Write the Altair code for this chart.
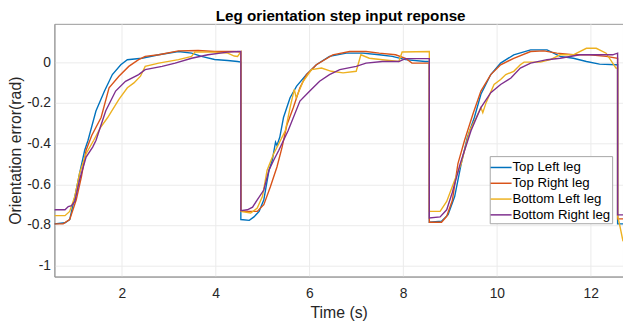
import altair as alt
import pandas as pd

title_text = "Leg orientation step input reponse"
series_names = ["Top Left leg", "Top Right leg", "Bottom Left leg", "Bottom Right leg"]
series_colors = ["#0072BD", "#D95319", "#EDB120", "#7E2F8E"]

t_top_left = [0.564, 0.79, 0.89, 1.0, 1.1, 1.21, 1.28, 1.45, 1.63, 1.80, 1.98, 2.12, 2.43, 2.79, 3.21, 3.49, 3.70, 3.98, 4.26, 4.47, 4.54,
              4.54, 4.72, 4.82, 4.93, 5.03, 5.14, 5.21, 5.28, 5.31, 5.37, 5.45, 5.59, 5.73, 5.94, 6.15, 6.43, 6.79, 7.14, 7.49, 7.77, 8.05, 8.47, 8.56,
              8.56, 8.82, 8.96, 9.1, 9.24, 9.37, 9.52, 9.66, 9.87, 10.08, 10.36, 10.72, 11.07, 11.35, 11.63, 11.91, 12.19, 12.54, 12.575,
              12.575, 12.69]
v_top_left = [-0.794, -0.789, -0.773, -0.66, -0.547, -0.433, -0.385, -0.240, -0.143, -0.061, -0.013, 0.012, 0.019, 0.036, 0.052, 0.044, 0.028, 0.013, 0.008, 0.003, 0.0,
              -0.773, -0.777, -0.76, -0.733, -0.676, -0.531, -0.482, -0.393, -0.409, -0.369, -0.272, -0.175, -0.118, -0.061, -0.013, 0.028, 0.044, 0.044, 0.036, 0.028, 0.012, 0.003, 0.003,
              -0.786, -0.781, -0.749, -0.66, -0.498, -0.37, -0.272, -0.158, -0.061, -0.005, 0.036, 0.060, 0.060, 0.028, 0.019, 0.003, -0.01, -0.013, -0.013,
              -0.794, -0.794]

t_top_right = [0.564, 0.75, 0.89, 1.03, 1.14, 1.24, 1.36, 1.56, 1.73, 1.94, 2.15, 2.36, 2.5, 2.79, 3.21, 3.63, 3.98, 4.4, 4.54,
               4.54, 4.89, 5.03, 5.17, 5.31, 5.42, 5.52, 5.66, 5.80, 5.94, 6.15, 6.5, 6.86, 7.21, 7.49, 7.84, 8.05, 8.19, 8.47, 8.56,
               8.56, 8.82, 8.93, 9.05, 9.17, 9.31, 9.49, 9.66, 9.87, 10.08, 10.36, 10.72, 11.0, 11.28, 11.63, 11.98, 12.33, 12.575,
               12.575, 12.69]
v_top_right = [-0.794, -0.794, -0.773, -0.676, -0.563, -0.433, -0.36, -0.272, -0.126, -0.069, -0.021, 0.012, 0.028, 0.036, 0.055, 0.057, 0.052, 0.052, 0.049,
               -0.733, -0.733, -0.70, -0.612, -0.515, -0.417, -0.31, -0.223, -0.126, -0.061, -0.013, 0.036, 0.052, 0.052, 0.044, 0.036, 0.019, -0.005, -0.005, -0.005,
               -0.786, -0.786, -0.757, -0.68, -0.498, -0.385, -0.255, -0.142, -0.061, -0.013, 0.019, 0.052, 0.055, 0.044, 0.036, 0.036, 0.028, 0.019,
               -0.77, -0.77]

t_bottom_left = [0.564, 0.79, 0.89, 1.0, 1.1, 1.24, 1.40, 1.55, 1.70, 1.94, 2.12, 2.26, 2.40, 2.5, 2.79, 3.21, 3.49, 3.56, 3.98, 4.26, 4.4, 4.47, 4.54,
                 4.54, 4.75, 4.89, 5.0, 5.1, 5.24, 5.35, 5.49, 5.59, 5.68, 5.72, 5.87, 6.05, 6.26, 6.47, 6.72, 7.0, 7.1, 7.28, 7.56, 7.91, 7.98, 8.56,
                 8.56, 8.79, 8.93, 9.1, 9.24, 9.42, 9.56, 9.66, 9.70, 9.77, 9.94, 10.08, 10.19, 10.36, 10.5, 10.58, 10.93, 11.14, 11.35, 11.63, 11.91, 12.12, 12.33, 12.54, 12.575,
                 12.575, 12.62, 12.69]
v_bottom_left = [-0.754, -0.754, -0.733, -0.66, -0.547, -0.45, -0.385, -0.32, -0.272, -0.183, -0.126, -0.102, -0.069, -0.021, -0.005, 0.012, 0.028, 0.05, 0.049, 0.044, 0.03, 0.028, 0.05,
                 -0.733, -0.741, -0.717, -0.66, -0.531, -0.45, -0.401, -0.336, -0.223, -0.134, -0.175, -0.094, -0.037, -0.029, -0.045, -0.053, -0.045, 0.036, 0.019, 0.012, 0.003, 0.05, 0.052,
                 -0.733, -0.733, -0.684, -0.58, -0.498, -0.336, -0.272, -0.223, -0.248, -0.199, -0.11, -0.085, -0.061, -0.045, -0.013, 0.0, 0.0, 0.012, 0.036, 0.036, 0.068, 0.068, 0.044, -0.029, -0.03,
                 -0.755, -0.80, -0.88]

t_bottom_right = [0.564, 0.79, 0.86, 0.93, 1.0, 1.1, 1.24, 1.38, 1.45, 1.52, 1.66, 1.87, 2.08, 2.36, 2.5, 2.86, 3.14, 3.49, 3.84, 4.26, 4.47, 4.54,
                  4.54, 4.68, 4.79, 4.89, 5.03, 5.14, 5.24, 5.35, 5.55, 5.8, 6.01, 6.22, 6.43, 6.65, 7.0, 7.21, 7.56, 7.91, 8.05, 8.56,
                  8.56, 8.79, 8.93, 9.05, 9.22, 9.45, 9.66, 9.87, 10.08, 10.3, 10.5, 10.72, 11.07, 11.35, 11.77, 12.12, 12.47, 12.575,
                  12.575, 12.69]
v_bottom_right = [-0.725, -0.725, -0.709, -0.705, -0.684, -0.579, -0.466, -0.417, -0.385, -0.336, -0.239, -0.142, -0.094, -0.061, -0.037, -0.021, -0.005, 0.019, 0.036, 0.049, 0.052, 0.052,
                  -0.73, -0.725, -0.712, -0.676, -0.628, -0.531, -0.482, -0.433, -0.336, -0.191, -0.142, -0.094, -0.061, -0.037, -0.021, -0.005, 0.003, 0.003, 0.017, 0.017,
                  -0.765, -0.76, -0.725, -0.64, -0.498, -0.336, -0.223, -0.15, -0.11, -0.078, -0.029, -0.005, 0.012, 0.019, 0.036, 0.036, 0.036, 0.044,
                  -0.75, -0.75]

x_ticks = [2, 4, 6, 8, 10, 12]
y_ticks = [-1, -0.8, -0.6, -0.4, -0.2, 0]

rows = []
for name, ts, vs in zip(series_names,
                        [t_top_left, t_top_right, t_bottom_left, t_bottom_right],
                        [v_top_left, v_top_right, v_bottom_left, v_bottom_right]):
    for i, (t, v) in enumerate(zip(ts, vs)):
        rows.append({"series": name, "t": t, "v": v, "idx": i})
df = pd.DataFrame(rows)

FONT = "Liberation Sans"

lines = alt.Chart(df).mark_line(strokeWidth=1.4, clip=True).encode(
    x=alt.X("t:Q", title="Time (s)",
            scale=alt.Scale(domain=[0.564, 12.69], nice=False, zero=False),
            axis=alt.Axis(values=x_ticks, labelFontSize=14, titleFontSize=16, labelPadding=10,
                          titlePadding=4, ticks=False, gridColor="#ebebeb", domainColor="#999999",
                          labelColor="#262626", titleColor="#262626", titleFontWeight="normal",
                          labelFont=FONT, titleFont=FONT)),
    y=alt.Y("v:Q", title="Orientation error(rad)",
            scale=alt.Scale(domain=[-1.053, 0.188], nice=False, zero=False),
            axis=alt.Axis(values=y_ticks, labelFontSize=14, titleFontSize=16, labelPadding=4,
                          titlePadding=3, ticks=False, gridColor="#ebebeb", domainColor="#999999",
                          labelColor="#262626", titleColor="#262626", titleFontWeight="normal",
                          labelFont=FONT, titleFont=FONT,
                          labelExpr="datum.value == 0 ? '0' : toString(datum.value)")),
    color=alt.Color("series:N", title=None,
                    scale=alt.Scale(domain=series_names, range=series_colors),
                    legend=alt.Legend(orient="none", legendX=441, legendY=134,
                                      symbolType="M-1.25,0H1.25", symbolSize=289, symbolStrokeWidth=1.5,
                                      labelFontSize=13.4, labelFont=FONT, labelColor="#000000",
                                      labelOffset=2, rowPadding=0, padding=2,
                                      strokeColor="#a6a6a6", fillColor="#ffffff", cornerRadius=0)),
    order="idx:Q",
)

title_mark = alt.Chart(pd.DataFrame({"label": [title_text]})).mark_text(
    font=FONT, fontSize=15.4, fontWeight="bold", color="#000000",
    align="center", baseline="alphabetic",
).encode(text="label:N", x=alt.value(290), y=alt.value(-3))

chart = alt.layer(lines, title_mark).properties(
    width=576, height=256,
    autosize=alt.AutoSizeParams(type="none"),
    padding={"left": 47, "top": 14, "right": 0, "bottom": 46},
).configure_view(stroke="#999999")

chart.save("out.html", embed_options={"renderer": "svg", "actions": False})
